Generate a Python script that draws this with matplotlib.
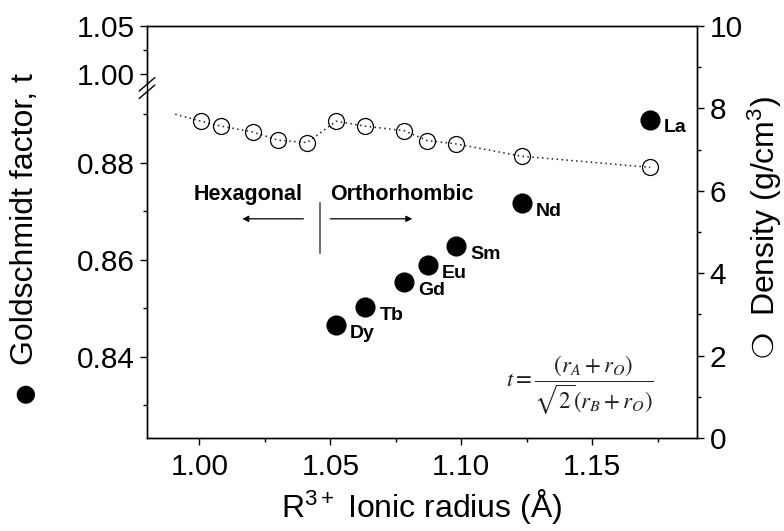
import numpy as np
import matplotlib
matplotlib.use("Agg")
import matplotlib.pyplot as plt
from matplotlib.ticker import FixedLocator, FormatStrFormatter, MultipleLocator

plt.rcParams['font.family'] = ['Liberation Sans', 'DejaVu Sans']
plt.rcParams['mathtext.fontset'] = 'custom'
plt.rcParams['mathtext.rm'] = 'Liberation Sans'
plt.rcParams['mathtext.it'] = 'Liberation Sans:italic'
plt.rcParams['mathtext.bf'] = 'Liberation Sans:bold'

# ---- data ----
elements = ['Dy', 'Tb', 'Gd', 'Eu', 'Sm', 'Nd', 'La']
radius_t = [1.0522, 1.0634, 1.0782, 1.0871, 1.0981, 1.1230, 1.1721]
goldschmidt_t = [0.8465, 0.8502, 0.8554, 0.8589, 0.8628, 0.8716, 0.8889]

radius_density = [1.0006, 1.0083, 1.0203, 1.0300, 1.0411, 1.0522, 1.0631,
                  1.0782, 1.0869, 1.0978, 1.1230, 1.1721]
density = [7.69, 7.57, 7.43, 7.23, 7.17, 7.69, 7.57, 7.46, 7.22, 7.14, 6.84, 6.57]

trend_start_x = [0.9908]
trend_start_y = [7.86]

x_ticks = [1.00, 1.05, 1.10, 1.15]
t_ticks = [0.84, 0.86, 0.88, 1.00, 1.05]
t_minor = [0.83, 0.85, 0.87, 0.89, 1.025]
d_ticks = [0, 2, 4, 6, 8, 10]

# ---- broken-axis scale for t ----
T0, TB_LO, TB_HI, TTOP = 0.8232, 0.8954, 0.9851, 1.05
K1, K2 = 11.76, 2.32
U_B = (TB_LO - T0) * K1

def fwd(t):
    t = np.asarray(t, dtype=float)
    lo = (t - T0) * K1
    hi = U_B + (t - TB_HI) * K2
    mid = np.full_like(t, U_B)
    return np.where(t <= TB_LO, lo, np.where(t >= TB_HI, hi, mid))

def inv(u):
    u = np.asarray(u, dtype=float)
    lo = T0 + u / K1
    hi = TB_HI + (u - U_B) / K2
    return np.where(u <= U_B, lo, hi)

W, H = 784, 531
fig = plt.figure(figsize=(W/100, H/100), dpi=100)
ax = fig.add_axes([147/W, 1-438/H, (697-147)/W, (438-26)/H])
ax.set_yscale('function', functions=(fwd, inv))
ax.set_ylim(T0, TTOP)
ax.set_xlim(0.98, 1.19)

ax2 = ax.twinx()
ax2.set_ylim(0, 10)

# density series with dotted trend
ax2.plot(trend_start_x + radius_density, trend_start_y + density,
         linestyle=(0, (1, 2.2)), color='#222222', linewidth=1.1, zorder=3)
ax2.plot(radius_density, density, linestyle='none', marker='o', markersize=11.5,
         markerfacecolor='none', markeredgecolor='black', markeredgewidth=0.9, zorder=4)

# Goldschmidt factor series
ax.plot(radius_t, goldschmidt_t, linestyle='none', marker='o', markersize=13.5,
        color='black', zorder=5)
for x, y, lab in zip(radius_t, goldschmidt_t, elements):
    ax.annotate(lab, (x, y), xytext=(10, -6), textcoords='offset points',
                ha='left', va='center', fontsize=14, fontweight='bold')

# ticks
for a in (ax, ax2):
    for s in a.spines.values():
        s.set_linewidth(1.0)
ax.xaxis.set_major_locator(FixedLocator(x_ticks))
ax.xaxis.set_minor_locator(MultipleLocator(0.025))
ax.xaxis.set_major_formatter(FormatStrFormatter('%.2f'))
ax.yaxis.set_major_locator(FixedLocator(t_ticks))
ax.yaxis.set_minor_locator(FixedLocator(t_minor))
ax.yaxis.set_major_formatter(FormatStrFormatter('%.2f'))
ax2.yaxis.set_major_locator(FixedLocator(d_ticks))
ax2.yaxis.set_minor_locator(MultipleLocator(1))

ax.tick_params(axis='both', which='major', direction='out', length=5, width=1,
               labelsize=21.5, pad=4)
ax.tick_params(axis='x', which='major', pad=6)
ax.tick_params(axis='both', which='minor', direction='out', length=3, width=1)
ax.tick_params(axis='x', top=False, which='both')
ax2.tick_params(axis='y', which='major', direction='out', length=5, width=1,
                labelsize=21.5, pad=4)
ax2.tick_params(axis='y', which='minor', direction='out', length=3, width=1)

# axis labels placed in figure pixels
ax.set_xlabel(r'R$^{3+}$ Ionic radius (Å)', fontsize=23, labelpad=4)
fig.text(25/W, 1-219/H, 'Goldschmidt factor, t', rotation=90, ha='center',
         va='center', fontsize=23)
fig.text(25/W, 1-393/H, '\u25CF', rotation=90, ha='center', va='center',
         fontsize=17, family=['DejaVu Sans'])
fig.text(765/W, 1-206/H, r'Density (g/cm$^3$)', rotation=90, ha='center',
         va='center', fontsize=23)
fig.text(764/W, 1-344/H, '\u274D', rotation=90, ha='center', va='center',
         fontsize=21, family=['DejaVu Sans'])

# axis break marks
tr = ax.transAxes
ub = fwd(np.array([TB_LO]))[0] / fwd(np.array([TTOP]))[0]
ax.plot([-0.004, 0.004], [ub - 0.006, ub + 0.006], transform=tr, color='white',
        linewidth=4, clip_on=False, zorder=10, solid_capstyle='butt')
for dy in (-0.009, 0.009):
    ax.plot([-0.014, 0.014], [ub + dy - 0.016, ub + dy + 0.016], transform=tr,
            color='black', linewidth=1.0, clip_on=False, zorder=11)

# phase annotations (density axis coordinates)
ax2.text(1.0187, 5.90, 'Hexagonal', ha='center', va='center', fontsize=15.5, fontweight='bold')
ax2.text(1.0775, 5.90, 'Orthorhombic', ha='center', va='center', fontsize=15.5, fontweight='bold')
ax2.plot([1.0462, 1.0462], [4.49, 5.70], color='#555555', linewidth=1.2)
ax2.annotate('', xy=(1.0164, 5.32), xytext=(1.0397, 5.32),
             arrowprops=dict(arrowstyle='-|>', color='black', lw=0.9,
                             mutation_scale=9, shrinkA=0, shrinkB=0))
ax2.annotate('', xy=(1.0813, 5.32), xytext=(1.0500, 5.32),
             arrowprops=dict(arrowstyle='-|>', color='black', lw=0.9,
                             mutation_scale=9, shrinkA=0, shrinkB=0))

ax2.text(1.1454, 1.29, r'$t=\dfrac{(r_A+r_O)}{\sqrt{2}(r_B+r_O)}$', ha='center',
         va='center', fontsize=16.5, math_fontfamily='stix', color='#222222')

fig.savefig('out.png', dpi=100)
